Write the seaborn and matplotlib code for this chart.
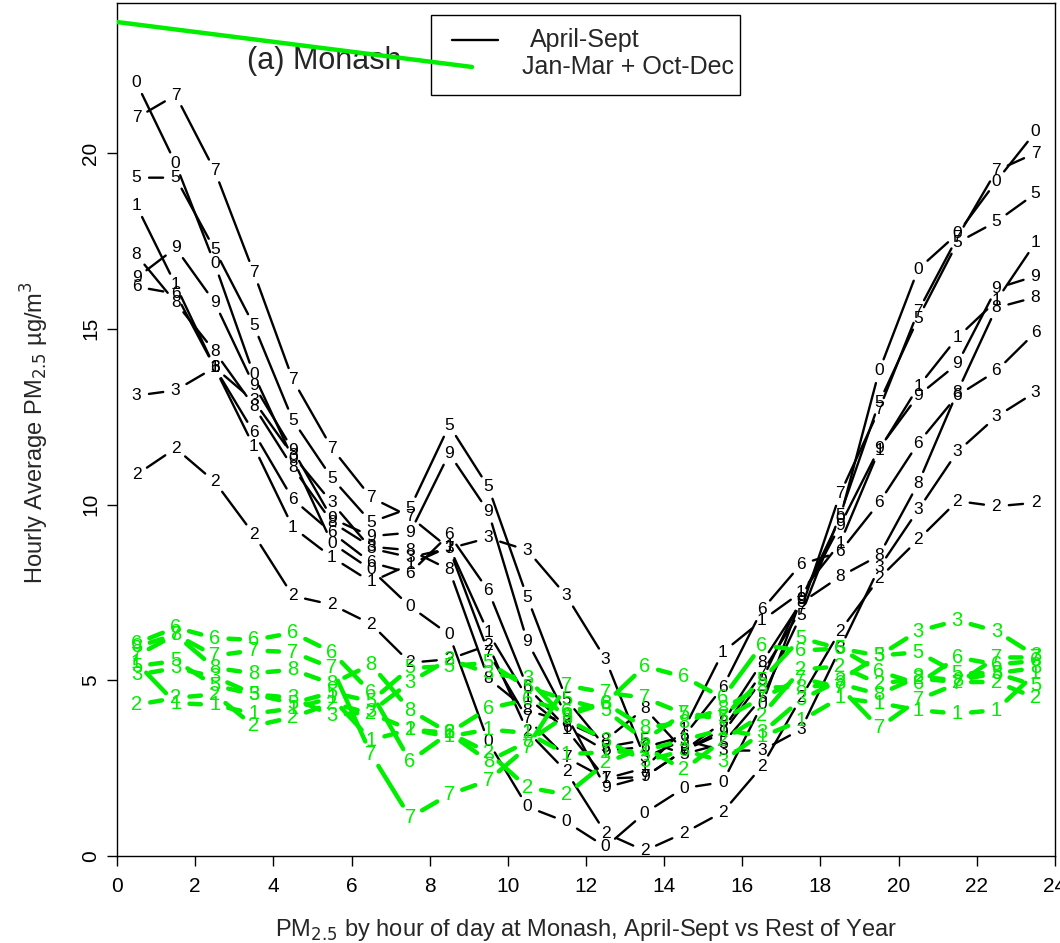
import numpy as np
import pandas as pd
import matplotlib
matplotlib.use("Agg")
import matplotlib.pyplot as plt
import seaborn as sns

# hourly means, hour of day 0..23 plotted at the bin centres
hours = np.arange(24) + 0.5

# April-Sept, one series per year (plotting symbol = last digit of year)
aprsep_0 = [22.0, 19.7, 16.85, 13.7, 11.3, 8.9, 8.15, 7.1, 6.3, 3.25, 1.4, 0.97,
            0.26, 1.22, 1.93, 2.1, 4.3, 7.3, 9.6, 13.8, 16.7, 17.7, 19.2, 20.6]
aprsep_1 = [18.5, 16.25, 13.9, 11.65, 9.35, 8.5, 7.8, 8.3, 8.8, 6.35, 4.5, 3.6,
            2.2, 2.5, 3.6, 5.8, 6.7, 7.5, 8.9, 11.55, 13.35, 14.75, 15.8, 17.45]
aprsep_2 = [10.85, 11.6, 10.65, 9.15, 7.4, 7.15, 6.6, 5.5, 5.6, 6.0, 3.55, 2.4,
            0.65, 0.15, 0.65, 1.25, 2.55, 4.5, 6.4, 7.9, 9.0, 10.1, 9.95, 10.05]
aprsep_3 = [13.1, 13.25, 13.9, 12.95, 11.4, 10.05, 8.75, 8.5, 8.75, 9.05, 8.7, 7.4,
            5.6, 2.8, 3.3, 3.0, 3.0, 3.6, 5.9, 8.2, 9.85, 11.5, 12.5, 13.2]
aprsep_5 = [19.3, 19.3, 17.25, 15.1, 12.4, 10.75, 9.5, 9.9, 12.25, 10.5, 7.35, 4.45,
            3.1, 3.3, 2.9, 3.2, 4.5, 6.85, 9.7, 12.9, 15.3, 17.45, 18.05, 18.85]
aprsep_6 = [16.2, 16.0, 13.9, 12.05, 10.15, 9.2, 8.35, 8.05, 9.15, 7.55, 4.8, 3.65,
            3.0, 3.1, 3.4, 4.8, 7.0, 8.3, 8.65, 10.05, 11.75, 13.1, 13.8, 14.9]
aprsep_7 = [21.0, 21.65, 19.5, 16.6, 13.55, 11.6, 10.2, 9.65, 8.75, 5.8, 3.9, 2.8,
            2.2, 2.25, 3.0, 3.6, 5.2, 7.0, 10.3, 12.7, 15.5, 17.6, 19.5, 20.0]
aprsep_8 = [17.1, 15.75, 14.35, 12.8, 11.05, 9.5, 8.8, 8.7, 8.15, 5.05, 4.15, 3.8,
            3.3, 4.2, 3.0, 3.8, 5.5, 7.2, 7.95, 8.55, 10.6, 13.2, 15.6, 15.9]
aprsep_9 = [16.45, 17.3, 15.75, 13.4, 11.55, 9.6, 9.1, 9.2, 11.45, 9.8, 6.1, 4.0,
            1.95, 2.25, 3.0, 3.5, 5.0, 7.3, 9.4, 11.6, 13.1, 14.0, 16.15, 16.5]

# Jan-Mar + Oct-Dec
rest_1 = [5.5, 4.35, 4.3, 4.05, 4.2, 4.5, 3.3, 3.6, 3.4, 3.6, 3.5, 2.9,
          2.95, 3.0, 3.3, 3.6, 3.4, 3.85, 4.5, 4.35, 4.15, 4.05, 4.15, 5.2]
rest_2 = [4.3, 4.5, 4.6, 3.7, 3.95, 4.35, 4.05, 3.6, 3.5, 2.95, 1.95, 1.75,
          2.65, 3.1, 2.45, 3.3, 4.0, 5.3, 5.4, 4.9, 5.05, 4.95, 4.95, 4.5]
rest_3 = [5.15, 5.35, 5.1, 4.6, 4.5, 4.0, 4.1, 4.95, 5.6, 5.2, 5.05, 3.9,
          3.3, 2.7, 3.0, 2.7, 3.5, 4.45, 5.0, 5.7, 6.4, 6.7, 6.4, 5.7]
rest_5 = [5.4, 5.55, 4.85, 4.6, 4.35, 4.65, 4.4, 5.35, 5.4, 5.5, 4.8, 4.45,
          4.15, 3.3, 4.05, 3.95, 5.0, 6.2, 5.9, 5.7, 5.8, 5.2, 5.2, 4.85]
rest_6 = [6.05, 6.5, 6.2, 6.15, 6.35, 5.8, 4.65, 2.7, 3.5, 4.2, 4.45, 4.1,
          4.35, 5.4, 5.1, 4.5, 6.0, 5.85, 5.9, 5.25, 4.9, 5.65, 5.45, 5.55]
rest_7 = [5.7, 6.3, 5.7, 5.85, 5.8, 5.35, 2.9, 1.1, 1.75, 2.15, 3.1, 4.85,
          4.65, 4.5, 4.05, 3.9, 4.5, 5.05, 4.8, 3.65, 4.45, 4.9, 5.65, 5.65]
rest_8 = [5.95, 6.3, 5.35, 5.2, 5.3, 4.9, 5.45, 4.15, 3.5, 2.7, 3.25, 4.0,
          4.35, 3.65, 3.8, 4.2, 4.8, 4.8, 4.9, 4.6, 5.1, 5.0, 5.2, 5.35]

aprsep = {"0": aprsep_0, "1": aprsep_1, "2": aprsep_2, "3": aprsep_3, "5": aprsep_5,
          "6": aprsep_6, "7": aprsep_7, "8": aprsep_8, "9": aprsep_9}
rest = {"1": rest_1, "2": rest_2, "3": rest_3, "5": rest_5,
        "6": rest_6, "7": rest_7, "8": rest_8}

frames = []
for season, d in [("April-Sept", aprsep), ("Jan-Mar + Oct-Dec", rest)]:
    for yr, vals in d.items():
        frames.append(pd.DataFrame({"season": season, "year": yr,
                                    "hour": hours, "pm25": vals}))
df = pd.concat(frames, ignore_index=True)

sns.set_style("ticks")
plt.rcParams["font.family"] = ["Liberation Sans", "DejaVu Sans"]

GREEN = "#00ee00"
style = {
    "April-Sept": dict(color="black", lw=1.7, size=12.5, gap=9),
    "Jan-Mar + Oct-Dec": dict(color=GREEN, lw=3.2, size=14.5, gap=10),
}

fig = plt.figure(figsize=(10.6, 9.43), dpi=100)
ax = fig.add_axes([117 / 1060, 87 / 943, 938 / 1060, 853 / 943])
ax.set_xlim(0, 24)
ax.set_ylim(0, 24.27)

# R style type="b": digit symbols with line segments stopping short of them
for season in ["April-Sept", "Jan-Mar + Oct-Dec"]:
    st = style[season]
    for yr, g in df[df.season == season].groupby("year"):
        x = g.hour.to_numpy()
        y = g.pm25.to_numpy()
        for i in range(len(x) - 1):
            ax.annotate("", xy=(x[i + 1], y[i + 1]), xytext=(x[i], y[i]),
                        arrowprops=dict(arrowstyle="-", color=st["color"],
                                        lw=st["lw"], shrinkA=st["gap"],
                                        shrinkB=st["gap"]))
        for xi, yi in zip(x, y):
            ax.text(xi, yi, yr, color=st["color"], fontsize=st["size"],
                    ha="center", va="center")

ax.set_xticks(range(0, 25, 2))
ax.set_yticks([0, 5, 10, 15, 20])
ax.tick_params(axis="both", direction="out", length=7, width=1,
               labelsize=15, color="black", labelcolor="black")
ax.tick_params(axis="x", pad=8)
ax.tick_params(axis="y", pad=5)
for lab in ax.get_yticklabels():
    lab.set_rotation(90)
    lab.set_va("center")
for sp in ax.spines.values():
    sp.set_visible(True)
    sp.set_color("black")
    sp.set_linewidth(1)

ax.text(5.3, 22.62, "(a) Monash", fontsize=22, ha="center", va="center")

# legend box (the green key line in the original runs off to the left edge)
ax.add_patch(plt.Rectangle((0.3348, 0.892), 0.3294, 0.0938, transform=ax.transAxes,
                           fill=False, edgecolor="black", lw=1, zorder=5))
ax.plot([0.357, 0.406], [0.9566, 0.9566], color="black", lw=1.7,
        transform=ax.transAxes, zorder=5)
ax.plot([0.0, 0.3785], [0.9777, 0.925], color=GREEN, lw=3.2,
        transform=ax.transAxes, zorder=5)
ax.text(0.440, 0.9566, "April-Sept", transform=ax.transAxes, fontsize=18,
        va="center", ha="left")
ax.text(0.432, 0.925, "Jan-Mar + Oct-Dec", transform=ax.transAxes, fontsize=18,
        va="center", ha="left")

fig.text(586 / 1060, 1 - 930 / 943,
         "PM$_{2.5}$ by hour of day at Monash, April-Sept vs Rest of Year",
         fontsize=17, ha="center", va="center")
fig.text(35 / 1060, 1 - 432 / 943, "Hourly Average PM$_{2.5}$ \u00b5g/m$^3$",
         fontsize=17, ha="center", va="center", rotation=90)

fig.savefig("out.png", dpi=100)
plt.close(fig)
